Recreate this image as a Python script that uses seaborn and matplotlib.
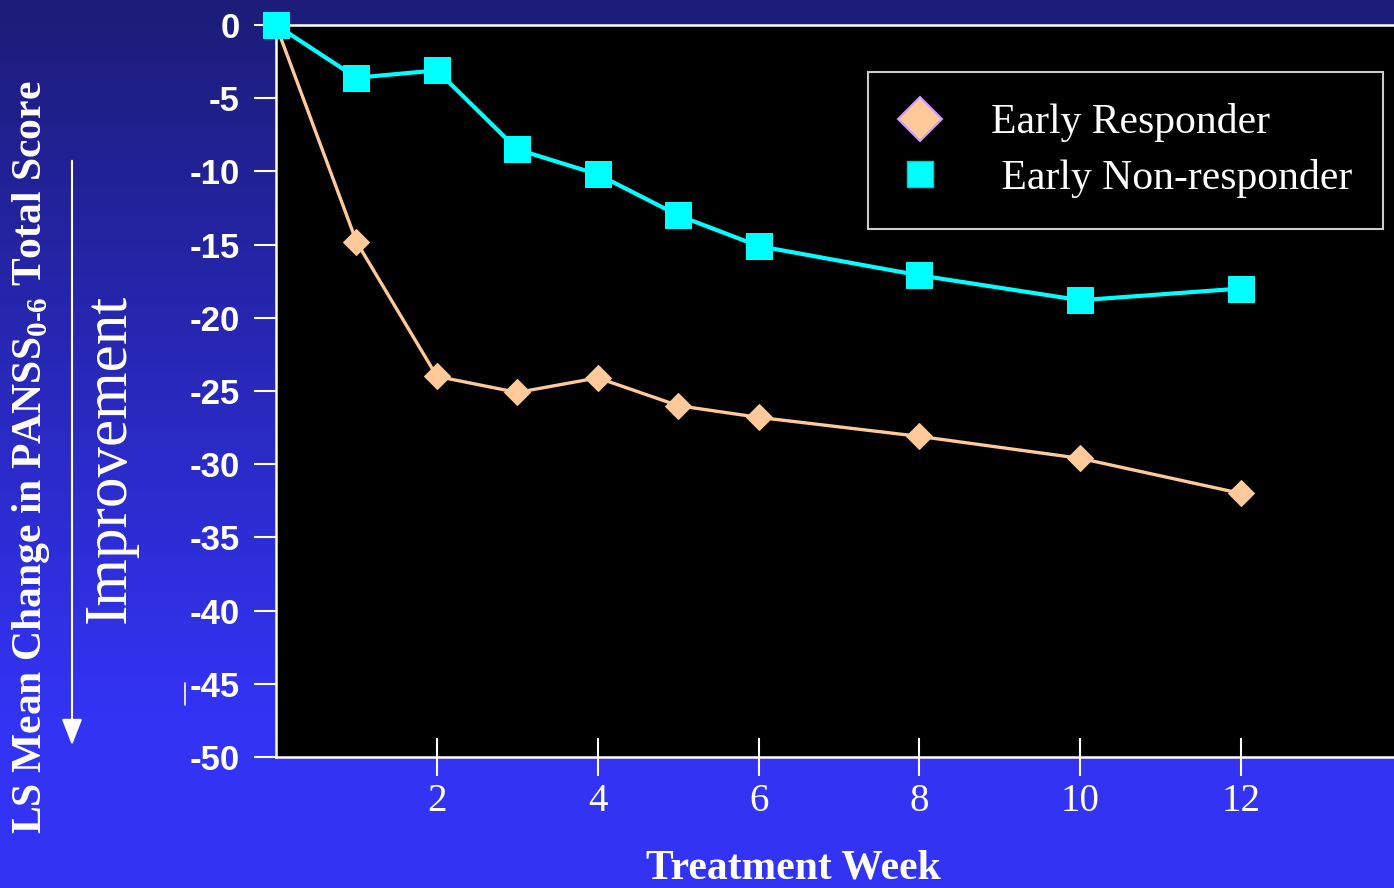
import numpy as np
import pandas as pd
import matplotlib
matplotlib.use("Agg")
import matplotlib.pyplot as plt
from matplotlib.lines import Line2D
import seaborn as sns

# ---- data ----
weeks = [0, 1, 2, 3, 4, 5, 6, 8, 10, 12]
responder = [0, -14.8, -24.0, -25.1, -24.1, -26.0, -26.8, -28.1, -29.6, -32.0]
non_responder = [0, -3.6, -3.1, -8.5, -10.2, -13.0, -15.1, -17.1, -18.8, -18.0]
group_names = ["Early Responder", "Early Non-responder"]
y_ticks = [0, -5, -10, -15, -20, -25, -30, -35, -40, -45, -50]
x_ticks = [2, 4, 6, 8, 10, 12]

df_r = pd.DataFrame({"week": weeks, "change": responder, "group": group_names[0]})
df_n = pd.DataFrame({"week": weeks, "change": non_responder, "group": group_names[1]})

sns.set_theme(style="white")
plt.rcParams["font.family"] = ["Liberation Serif", "DejaVu Serif"]
plt.rcParams["axes.unicode_minus"] = False
plt.rcParams["mathtext.fontset"] = "custom"
plt.rcParams["mathtext.rm"] = "Liberation Serif:bold"
plt.rcParams["mathtext.bf"] = "Liberation Serif:bold"

W, H = 1394, 888
fig = plt.figure(figsize=(W / 100, H / 100), dpi=100)

# background gradient
bg = fig.add_axes([0, 0, 1, 1], zorder=-10)
top = np.array([0.11, 0.11, 0.47])
bot = np.array([0.20, 0.20, 0.96])
t = np.clip(np.linspace(0, 1, 300) / 0.8, 0, 1)[:, None]
grad = top * (1 - t) + bot * t
bg.imshow(grad[:, None, :], aspect="auto", extent=[0, 1, 0, 1], origin="upper")
bg.axis("off")

ax = fig.add_axes([276 / W, 1 - 757 / H, 1 - 276 / W, (757 - 25) / H])
ax.set_facecolor("black")

peach = "#FFC999"
cyan = "#00FFFF"
sns.lineplot(data=df_r, x="week", y="change", color=peach, marker="D", markersize=13.5,
             markeredgecolor=peach, linewidth=2.4, ax=ax, clip_on=False, zorder=5)
sns.lineplot(data=df_n, x="week", y="change", color=cyan, marker="s", markersize=19,
             markeredgecolor=cyan, linewidth=3, ax=ax, clip_on=False, zorder=6)

ax.set_xlim(0, 13.9)
ax.set_ylim(-50, 0)
ax.set_xlabel("")
ax.set_ylabel("")

for s in ["left", "bottom", "top"]:
    ax.spines[s].set_color("white")
    ax.spines[s].set_linewidth(1.8)
ax.spines["right"].set_visible(False)

ax.set_yticks(y_ticks)
ax.set_yticklabels([str(v) for v in y_ticks], fontfamily="Liberation Sans",
                   fontweight="bold", fontsize=25, color="white")
ax.tick_params(axis="y", direction="out", length=16, width=1.5, color="white", pad=10, left=True)
ax.set_xticks(x_ticks)
ax.set_xticklabels([str(v) for v in x_ticks], fontsize=28, color="white")
ax.tick_params(axis="x", direction="inout", length=28, width=1.5, color="white", pad=5, bottom=True)

handles = [
    Line2D([], [], linestyle="none", marker="D", markersize=22, markerfacecolor=peach,
           markeredgecolor="#CC99FF", markeredgewidth=1.5),
    Line2D([], [], linestyle="none", marker="s", markersize=19, markerfacecolor=cyan,
           markeredgecolor="#00CCCC", markeredgewidth=1),
]
leg = ax.legend(handles, ["Early Responder", " Early Non-responder"], loc="upper left",
                bbox_to_anchor=((868 - 276) / (W - 276), 1 - (72 - 25) / (757 - 25)),
                frameon=True, fancybox=False, fontsize=30, labelcolor="white",
                facecolor="black", edgecolor="white", handlelength=1.0, handletextpad=1.2,
                borderpad=0.75, labelspacing=0.4, borderaxespad=0)
leg.get_frame().set_linewidth(1.5)

fig.text(793 / W, 1 - 868 / H, "Treatment Week", ha="center", va="center",
         fontsize=30, fontweight="bold", color="white")
fig.text(31 / W, 1 - 457 / H, r"LS Mean Change in PANSS$_{\mathbf{0\text{-}6}}$ Total Score",
         rotation=90, ha="center", va="center", fontsize=30, fontweight="bold", color="white")
fig.text(110 / W, 1 - 458 / H, "Improvement", rotation=90, ha="center", va="center",
         fontsize=44, color="white")
fig.add_artist(matplotlib.patches.FancyArrowPatch(
    (72 / W, 1 - 158 / H), (72 / W, 1 - 748 / H), transform=fig.transFigure,
    arrowstyle="-|>,head_length=0.9,head_width=0.35", mutation_scale=18,
    color="white", linewidth=1.5))
fig.add_artist(Line2D([185 / W, 185 / W], [1 - 683 / H, 1 - 705 / H],
                      transform=fig.transFigure, color="white", linewidth=1.2))

fig.savefig("out.png", dpi=100)
